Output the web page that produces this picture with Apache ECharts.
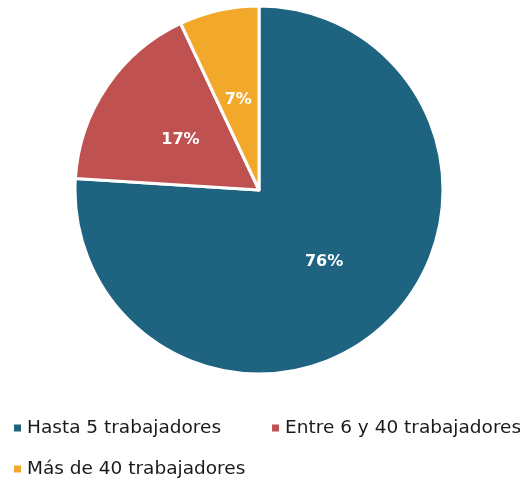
<!DOCTYPE html>
<html>
<head>
<meta charset="utf-8">
<script src="https://cdn.jsdelivr.net/npm/echarts@6/dist/echarts.min.js"></script>
<style>
  html, body { margin: 0; padding: 0; background: #fff; }
  #chart { width: 520px; height: 484px; }
</style>
</head>
<body>
<div id="chart"></div>
<script>
// datos del gráfico
var categories = ['Hasta 5 trabajadores', 'Entre 6 y 40 trabajadores', 'Más de 40 trabajadores'];
var values = [76, 17, 7];
var colors = ['#1e6380', '#bf5151', '#f2a92b'];

var pieData = categories.map(function (name, i) {
    return { name: name, value: values[i], itemStyle: { color: colors[i] } };
});

var myChart = echarts.init(document.getElementById('chart'));
var option = {
    animation: false,
    legend: {
        left: 7,
        top: 413,
        width: 580,
        itemWidth: 9,
        itemHeight: 9,
        itemGap: 21,
        icon: 'rect',
        textStyle: {
            fontFamily: 'DejaVu Sans',
            fontSize: 18.5,
            color: '#1a1a1a',
            lineHeight: 20,
            padding: [0, 28, 0, 0]
        },
        data: categories
    },
    series: [{
        type: 'pie',
        center: [259, 190],
        radius: [0, 184],
        startAngle: 90,
        clockwise: true,
        itemStyle: {
            borderColor: '#fff',
            borderWidth: 3
        },
        label: {
            show: true,
            position: 'inside',
            formatter: '{c}%',
            color: '#fff',
            fontFamily: 'DejaVu Sans',
            fontWeight: 'bold',
            fontSize: 16,
            offset: [0, 3]
        },
        labelLine: { show: false },
        emphasis: { disabled: true },
        data: pieData
    }]
};
myChart.setOption(option);
</script>
</body>
</html>
